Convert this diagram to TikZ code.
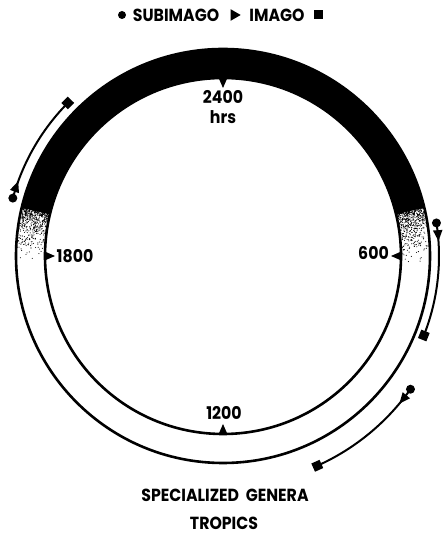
\documentclass[tikz,border=0pt]{standalone}
\usepackage{fontspec}
\setmainfont{Poppins}[FakeStretch=0.9]
\usetikzlibrary{arrows.meta,decorations.markings,calc,shapes.geometric}
\begin{document}
\begin{tikzpicture}[x=1pt,y=1pt,
  lbl/.style={font=\fontsize{17.5}{19}\selectfont\bfseries, inner sep=0pt},
  ring/.style={line width=2.6pt},
  trail/.style={line width=2pt},
  dotm/.style={circle, fill=black, inner sep=0pt, minimum size=9pt},
  sqm/.style={rectangle, fill=black, inner sep=0pt, minimum size=9pt},
  tri/.style={isosceles triangle, isosceles triangle apex angle=60, fill=black, inner sep=0pt, minimum height=10pt, minimum width=11pt},
  markarrow/.style={postaction={decorate}, decoration={markings, mark=at position #1 with {\arrow{Triangle[length=11pt,width=9pt]}}}}
]
\useasboundingbox (0,0) rectangle (445,540);
\coordinate (C) at (223,284);
% black band
\fill[black] ($(C)+(13.5:207)$) arc[start angle=13.5,end angle=166.5,radius=207]
  -- ($(C)+(166.5:178)$) arc[start angle=166.5,end angle=13.5,radius=178] -- cycle;
% stipple
\pgfmathsetseed{7}
\foreach \i in {1,...,480}{
  \pgfmathsetmacro\a{13.6-16*rnd*rnd}
  \pgfmathsetmacro\r{179+27*rnd}
  \fill ($(C)+(\a:\r)$) circle[radius=0.55];
  \pgfmathsetmacro\b{166.4+16*rnd*rnd}
  \pgfmathsetmacro\s{179+27*rnd}
  \fill ($(C)+(\b:\s)$) circle[radius=0.55];
}
% ring lines
\draw[ring] (C) circle[radius=207];
\draw[ring] (C) circle[radius=178];
% ticks
\foreach \ang in {0,90,180,270}{
  \fill ($(C)+(\ang+1.4:178)$) -- ($(C)+(\ang:168)$) -- ($(C)+(\ang-1.4:178)$) -- cycle;
}
% hour labels
\node[lbl] (t2400) at (223,443) {2400};
\node[lbl] (thrs) at (223,423) {hrs};
\node[lbl] (t1800) at (75,284) {1800};
\node[lbl, anchor=east] (t600) at (389,287) {600};
\node[lbl] (t1200) at (224,127) {1200};
% title
\node[dotm, minimum size=8pt] (tdot) at (122,525) {};
\node[lbl] (tsub) at (176,525) {SUBIMAGO};
\node[tri] (ttri) at (234,525) {};
\node[lbl] (timago) at (277,525) {IMAGO};
\node[sqm, minimum size=9pt] (tsq) at (318,525) {};
% caption
\node[lbl] (cap1) at (225,45) {SPECIALIZED\ \ GENERA};
\node[lbl] (cap2) at (224,17) {TROPICS};
% left trail
\coordinate (L1) at ($(C)+(164.6:218)$);
\coordinate (L2) at ($(C)+(135.4:218)$);
\draw[trail, markarrow=0.16] (L1) arc[start angle=164.6, end angle=135.4, radius=218];
\node[dotm] (ldot) at (L1) {};
\node[sqm, rotate=135.4] (lsq) at (L2) {};
% right upper trail
\coordinate (R1) at ($(C)+(8.8:216)$);
\coordinate (R2) at ($(C)+(-21.6:216)$);
\draw[trail, markarrow=0.16] (R1) arc[start angle=8.8, end angle=-21.6, radius=216];
\node[dotm] (rdot) at (R1) {};
\node[sqm, rotate=-21.6] (rsq) at (R2) {};
% right lower trail
\coordinate (S1) at ($(C)+(-35.4:230)$);
\coordinate (S2) at ($(C)+(-65.8:230)$);
\draw[trail, markarrow=0.15] (S1) arc[start angle=-35.4, end angle=-65.8, radius=230];
\node[dotm] (sdot) at (S1) {};
\node[sqm, rotate=-65.8] (ssq) at (S2) {};
\end{tikzpicture}
\end{document}
